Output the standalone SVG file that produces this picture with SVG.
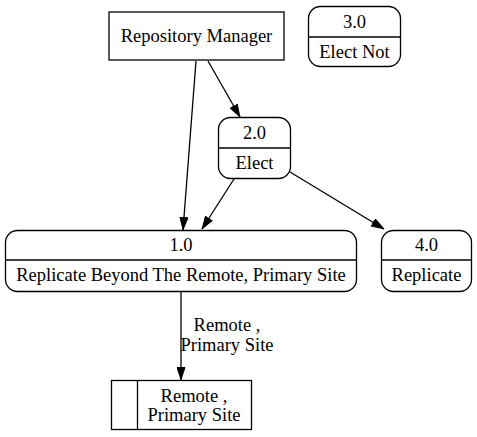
<svg xmlns="http://www.w3.org/2000/svg" width="477" height="437" viewBox="0 0 477 437">
<style>
text{font-family:'Liberation Serif','Times New Roman',serif;font-size:18.5px;fill:#000;text-anchor:middle}
.s{fill:none;stroke:#000;stroke-width:1.3}
.b{fill:#fff;stroke:#000;stroke-width:1.3}
</style>
<defs>
<marker id="ah" viewBox="0 0 13 9" refX="13" refY="4.5" markerWidth="13" markerHeight="9" markerUnits="userSpaceOnUse" orient="auto">
<path d="M0.5,0.5 L12.5,4.5 L0.5,8.5 z" fill="#000" stroke="#000" stroke-width="1"/>
</marker>
</defs>
<rect width="477" height="437" fill="#fff"/>
<g id="connectors">
<line class="s" x1="196" y1="61" x2="183" y2="230" marker-end="url(#ah)"/>
<line class="s" x1="208" y1="61" x2="240" y2="117" marker-end="url(#ah)"/>
<line class="s" x1="234" y1="179" x2="202" y2="229" marker-end="url(#ah)"/>
<line class="s" x1="290" y1="172" x2="384" y2="229" marker-end="url(#ah)"/>
<line class="s" x1="181" y1="292" x2="181" y2="380" marker-end="url(#ah)"/>
<text x="227" y="331">Remote ,</text>
<text x="227" y="351">Primary Site</text>
</g>
<g id="repo">
<rect class="b" x="109" y="12" width="175" height="48"/>
<text x="196.5" y="42">Repository Manager</text>
</g>
<g id="p3">
<rect class="b" x="308.5" y="6.5" width="92" height="60" rx="12"/>
<line class="s" x1="308.5" y1="37" x2="400.5" y2="37"/>
<text x="354.5" y="28">3.0</text>
<text x="354.5" y="58">Elect Not</text>
</g>
<g id="p2">
<rect class="b" x="218.5" y="117.5" width="72" height="61" rx="12"/>
<line class="s" x1="218.5" y1="148" x2="290.5" y2="148"/>
<text x="254.5" y="139">2.0</text>
<text x="254.5" y="169">Elect</text>
</g>
<g id="p1">
<rect class="b" x="5.5" y="230.5" width="351" height="61" rx="12"/>
<line class="s" x1="5.5" y1="260" x2="356.5" y2="260"/>
<text x="181" y="251">1.0</text>
<text x="181" y="281">Replicate Beyond The Remote, Primary Site</text>
</g>
<g id="p4">
<rect class="b" x="381.5" y="230.5" width="90" height="61" rx="12"/>
<line class="s" x1="381.5" y1="260" x2="471.5" y2="260"/>
<text x="426.5" y="251">4.0</text>
<text x="426.5" y="281">Replicate</text>
</g>
<g id="store">
<rect class="b" x="111.5" y="380.5" width="140" height="49"/>
<line class="s" x1="137.5" y1="380.5" x2="137.5" y2="429.5"/>
<text x="194" y="402">Remote ,</text>
<text x="194" y="421">Primary Site</text>
</g>
</svg>
